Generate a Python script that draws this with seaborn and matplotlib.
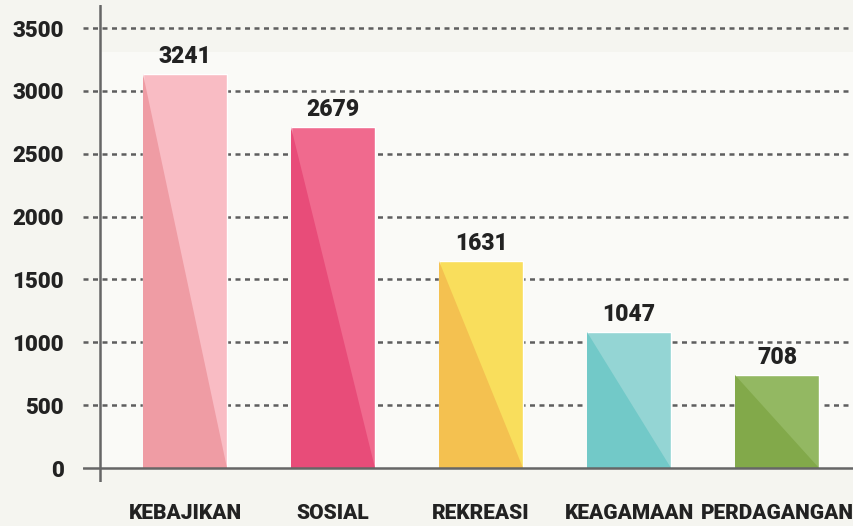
import matplotlib
matplotlib.use("Agg")
import matplotlib.pyplot as plt
from matplotlib.patches import Polygon, Rectangle
import seaborn as sns
import pandas as pd

categories = ["KEBAJIKAN", "SOSIAL", "REKREASI", "KEAGAMAAN", "PERDAGANGAN"]
value_labels = [3241, 2679, 1631, 1047, 708]
# bar heights as drawn in the reference picture
bar_heights = [3135, 2710, 1645, 1080, 740]
light_colors = ["#f9bcc4", "#f06a8e", "#f9de5c", "#94d5d4", "#93b862"]
dark_colors = ["#ef9ca4", "#e84c79", "#f4c150", "#72c9c8", "#82a94a"]
y_ticks = [0, 500, 1000, 1500, 2000, 2500, 3000, 3500]

df = pd.DataFrame({"cat": categories, "h": bar_heights})

sns.set_theme(style="white")
plt.rcParams["font.family"] = ["Roboto", "DejaVu Sans"]

fig = plt.figure(figsize=(8.54, 5.26), dpi=100)
fig.patch.set_facecolor("#f5f5f0")
ax = fig.add_axes([83 / 854, 1 - 482 / 526, 1 - 83 / 854, (482 - 5) / 526])
ax.set_facecolor("#f5f5f0")

yaxis_x = -0.574

for t in y_ticks[1:]:
    ax.axhline(t, color="#5e5e5e", lw=1.8, dashes=(2.0, 1.8), zorder=1)

sns.barplot(data=df, x="cat", y="h", hue="cat", palette=light_colors, legend=False,
            width=0.57, ax=ax, zorder=2, saturation=1)

bars = [b for c in ax.containers for b in c]
bars.sort(key=lambda b: b.get_x())
for p, dc, lab in zip(bars, dark_colors, value_labels):
    x0 = p.get_x()
    w = p.get_width()
    h = p.get_height()
    ax.add_patch(Polygon([(x0, h), (x0, 0), (x0 + w, 0)], closed=True,
                         facecolor=dc, edgecolor="none", zorder=3))
    ax.text(x0 + w / 2, h + 50, str(lab), ha="center", va="bottom",
            fontsize=16.5, fontweight=900, color="#222222", zorder=4)

ax.add_patch(Rectangle((yaxis_x, 0), 6, 3309, facecolor="#fafaf7", edgecolor="none", zorder=0))

ax.axvline(yaxis_x, color="#666666", lw=1.8, zorder=5)
ax.axhline(0, color="#666666", lw=1.8, zorder=5)

ax.set_xlim(-0.689, 4.52)
ax.set_ylim(-111, 3683)
ax.set_yticks(y_ticks)
ax.set_yticklabels([str(t) for t in y_ticks], fontsize=16, fontweight=900, color="#222222")
ax.set_xticks(range(len(categories)))
ax.set_xticklabels(categories, fontsize=15, fontweight=900, color="#222222")
ax.tick_params(axis="y", length=0, pad=14)
ax.tick_params(axis="x", length=0, pad=16)
ax.set_xlabel("")
ax.set_ylabel("")
for s in ax.spines.values():
    s.set_visible(False)

fig.savefig("out.png", dpi=100, facecolor=fig.get_facecolor())
